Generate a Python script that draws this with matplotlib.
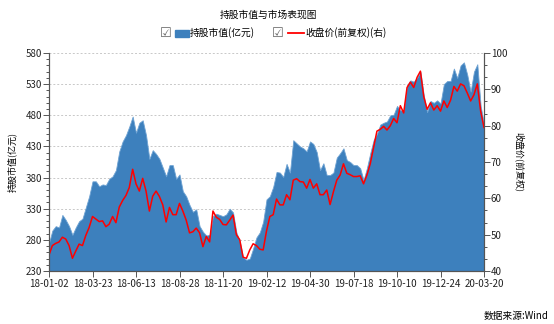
import matplotlib
matplotlib.use("Agg")
import matplotlib.pyplot as plt
import numpy as np
from matplotlib.lines import Line2D
from matplotlib.patches import Rectangle
from matplotlib.ticker import AutoMinorLocator, FixedLocator, MultipleLocator

plt.rcParams["font.family"] = ["Noto Sans CJK SC", "DejaVu Sans"]

# 持股市值(亿元), sampled evenly across the trading days
market_value = [
    275, 295, 302, 300, 320, 312, 302, 288, 300, 310, 314, 332, 350, 374, 374, 366,
    369, 368, 378, 382, 392, 422, 438, 448, 462, 478, 452, 468, 472, 448, 410, 424,
    418, 410, 396, 382, 400, 400, 378, 385, 358, 350, 336, 325, 329, 302, 293, 287,
    288, 318, 322, 320, 318, 321, 330, 324, 292, 278, 252, 248, 250, 266, 284, 292,
    309, 345, 350, 365, 389, 388, 381, 402, 388, 440, 435, 430, 427, 422, 438, 434,
    421, 392, 403, 384, 384, 388, 412, 419, 427, 408, 405, 400, 400, 395, 376, 395,
    419, 440, 450, 465, 468, 470, 480, 481, 495, 488, 488, 528, 536, 534, 540, 550,
    512, 485, 503, 500, 504, 499, 530, 535, 535, 555, 540, 560, 565, 545, 518, 550,
    562, 495, 466,
]

# 收盘价(前复权), same sampling
close_price = [
    44.4, 47.0, 47.6, 48.0, 49.3, 48.8, 47.0, 43.5, 45.5, 47.4, 47.0, 49.8, 52.0, 55.0,
    54.3, 53.6, 53.8, 52.2, 52.9, 55.0, 53.3, 57.6, 59.4, 60.8, 63.0, 68.0, 64.0, 62.0,
    65.5, 62.0, 56.5, 60.6, 62.0, 60.5, 58.2, 53.5, 57.5, 55.5, 55.5, 58.6, 56.5, 54.0,
    50.5, 50.8, 51.8, 50.5, 46.7, 49.5, 48.0, 56.5, 54.8, 54.2, 52.8, 52.7, 54.0, 55.4,
    50.0, 48.6, 43.8, 43.5, 45.8, 47.5, 47.0, 46.0, 45.8, 51.0, 55.0, 55.5, 59.8, 58.2,
    58.2, 61.0, 59.6, 65.0, 65.4, 64.6, 64.5, 62.8, 65.2, 62.8, 64.0, 61.0, 61.0, 62.3,
    58.3, 61.8, 65.0, 66.4, 69.5, 66.9, 66.5, 66.0, 66.0, 66.2, 64.0, 66.4, 69.5, 74.0,
    78.5, 79.0, 79.8, 78.8, 80.0, 82.0, 80.8, 85.5, 83.5, 90.5, 92.0, 90.5, 93.3, 95.0,
    88.0, 84.5, 86.3, 84.3, 85.5, 84.0, 86.8, 85.0, 87.0, 90.8, 89.5, 91.5, 91.0, 89.0,
    86.8, 88.5, 91.5, 84.0, 79.5,
]

date_labels = [
    "18-01-02", "18-03-23", "18-06-13", "18-08-28", "18-11-20", "19-02-12",
    "19-04-30", "19-07-18", "19-10-10", "19-12-24", "20-03-20",
]

BLUE = "#3d80bd"
RED = "#ff0000"
AXIS_COLOR = "#555555"

x = np.arange(len(market_value))
n = len(market_value) - 1

fig = plt.figure(figsize=(5.54, 3.24), dpi=100)
ax = fig.add_axes([49 / 554, 1 - 271 / 324, 435 / 554, 218 / 324])
ax2 = ax.twinx()

ax.fill_between(x, 230, market_value, color=BLUE, linewidth=0.6, edgecolor="#6fa3d3")
ax2.plot(x, close_price, color=RED, linewidth=1.1)

ax.set_xlim(0, n)
ax.set_ylim(230, 580)
ax2.set_ylim(40, 100)

ax.set_xticks(np.linspace(0, n, len(date_labels)))
ax.set_xticklabels(date_labels)
ax.yaxis.set_major_locator(FixedLocator(np.arange(230, 581, 50)))
ax.yaxis.set_minor_locator(FixedLocator(np.arange(230, 581, 10)))
ax2.yaxis.set_major_locator(MultipleLocator(10))
ax2.yaxis.set_minor_locator(AutoMinorLocator(3))

ax.grid(axis="y", color="#c8c8c8", linestyle=(0, (2, 2)), linewidth=0.7)
ax.set_axisbelow(True)

for a in (ax, ax2):
    a.spines["top"].set_visible(False)
    for side in ("left", "right", "bottom"):
        a.spines[side].set_color(AXIS_COLOR)
        a.spines[side].set_linewidth(0.8)
    a.tick_params(which="both", colors=AXIS_COLOR, labelcolor="#222222", labelsize=7, width=0.7)
    a.tick_params(which="major", length=4)
    a.tick_params(which="minor", length=2.5)
ax.tick_params(axis="x", pad=2)
ax.tick_params(axis="y", pad=1)
ax2.tick_params(axis="y", pad=1)

ax.set_ylabel("持股市值(亿元)", fontsize=6.5, labelpad=6)
ax2.set_ylabel("收盘价(前复权)", fontsize=6.5, rotation=270, labelpad=12)

fig.text(268 / 554, 1 - 15 / 324, "持股市值与市场表现图", fontsize=7, ha="center", va="center")

# legend with check boxes
ly = 1 - 33 / 324
for cx in (166, 278):
    fig.text(cx / 554, ly, "☑", fontsize=9.5, ha="center", va="center", color="#666666",
             family="DejaVu Sans")
fig.add_artist(Rectangle((175 / 554, ly - 3.5 / 324), 14 / 554, 7 / 324,
                         transform=fig.transFigure, color=BLUE))
fig.text(190 / 554, ly, "持股市值(亿元)", fontsize=7, ha="left", va="center")
fig.add_artist(Line2D([288 / 554, 304 / 554], [ly, ly], transform=fig.transFigure,
                      color=RED, linewidth=1.3))
fig.text(305 / 554, ly, "收盘价(前复权)(右)", fontsize=7, ha="left", va="center")

fig.text(548 / 554, 1 - 316 / 324, "数据来源:Wind", fontsize=7, ha="right", va="center")

fig.savefig("out.png", dpi=100)
